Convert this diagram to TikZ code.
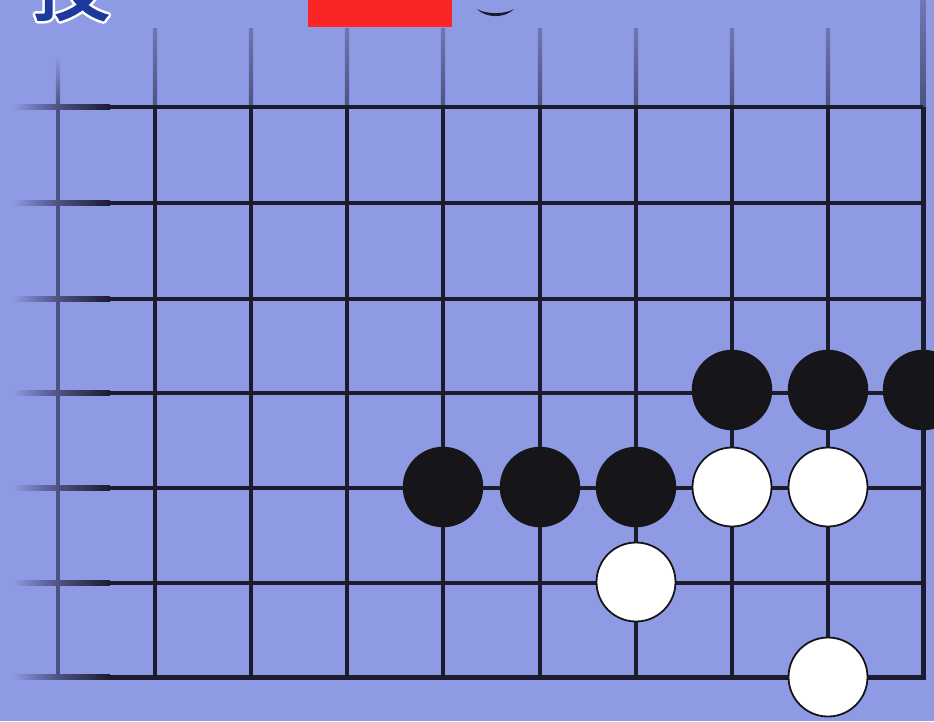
\documentclass[tikz,border=0pt]{standalone}
\usepackage{fontspec}
\newfontfamily\cjk[BoldFont={Noto Sans CJK SC},BoldFeatures={FakeBold=2.5}]{Noto Sans CJK SC}
\definecolor{bg}{RGB}{142,155,228}
\definecolor{gridc}{RGB}{28,28,46}
\definecolor{faint}{RGB}{112,118,178}
\definecolor{midc}{RGB}{78,82,128}
\definecolor{stonec}{RGB}{22,22,26}
\definecolor{titleblue}{RGB}{28,58,158}
\definecolor{redbox}{RGB}{250,38,38}
\tikzset{
  gline/.style={draw=gridc,line width=4.4pt},
  edgeline/.style={draw=gridc,line width=5pt,line join=miter},
  bstone/.style={circle,minimum size=79pt,inner sep=0pt,fill=stonec,draw=stonec,line width=1.5pt},
  wstone/.style={circle,minimum size=79pt,inner sep=0pt,fill=white,draw=stonec,line width=1.8pt},
  titlefont/.style={inner sep=0pt,anchor=base,font=\cjk\bfseries\fontsize{78}{80}\selectfont}
}
\begin{document}
\begin{tikzpicture}[x=1pt,y=-1pt]
\useasboundingbox (0,0) rectangle (934,721);
\clip (0,0) rectangle (934,721);
\fill[bg] (0,0) rectangle (934,721);
% title fragment (white outline, then blue)
\foreach \a in {0,45,...,315}
  \node[titlefont,text=white] at ([shift={(\a:2.6)}]71,14) {技};
\node[titlefont,text=titleblue] (title) at (71,14) {技};
% red box
\fill[redbox] (308,-2) rectangle (452,27);
% small arc
\fill[gridc] (477,9) .. controls (486,18.5) and (505,18.5) .. (514,9)
  .. controls (505,14.5) and (486,14.5) .. (477,9) -- cycle;
% vertical grid lines
\shade[top color=bg,bottom color=midc] (55.8,55) rectangle (60.2,107);
\draw[line width=4.4pt,draw=midc] (58,107) -- (58,677);
\foreach \x in {155,251,347,443,540,636,732,828} {
  \shade[top color=faint,bottom color=midc] (\x-2.2,28) rectangle (\x+2.2,107);
  \draw[gline] (\x,107) -- (\x,677);
}
\shade[top color=faint,bottom color=midc] (920.5,0) rectangle (925.5,107);
% horizontal grid lines
\foreach \y in {107,203,299,393,488,583} {
  \shade[left color=bg,right color=midc] (12,\y-2.2) rectangle (58,\y+2.2);
  \shade[left color=midc,right color=gridc] (58,\y-2.2) rectangle (110,\y+2.2);
  \draw[gline] (110,\y) -- (923,\y);
}
\shade[left color=bg,right color=midc] (12,674.5) rectangle (58,679.5);
\shade[left color=midc,right color=gridc] (58,674.5) rectangle (110,679.5);
\draw[edgeline] (923,107) -- (923,677) -- (110,677);
% stones
\node[bstone] (b1) at (443,487) {};
\node[bstone] (b2) at (540,487) {};
\node[bstone] (b3) at (636,487) {};
\node[bstone] (b4) at (732,390) {};
\node[bstone] (b5) at (828,390) {};
\node[bstone] (b6) at (923,390) {};
\node[wstone] (w1) at (732,487) {};
\node[wstone] (w2) at (828,487) {};
\node[wstone] (w3) at (636,582) {};
\node[wstone] (w4) at (828,677) {};
\end{tikzpicture}
\end{document}
